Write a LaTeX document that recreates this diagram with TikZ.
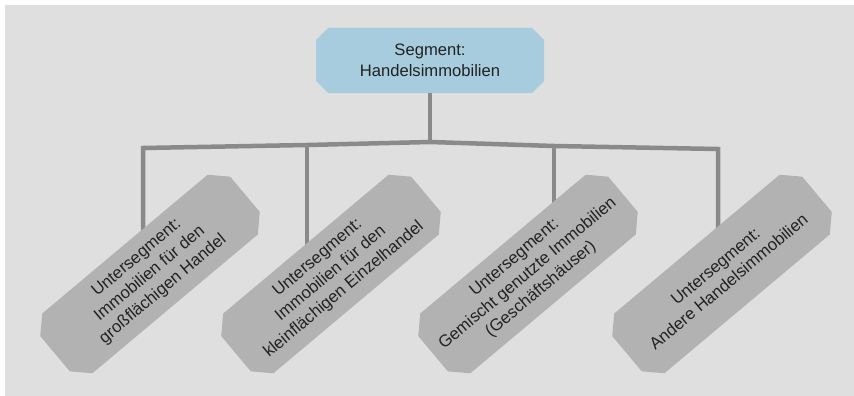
\documentclass[tikz,border=0pt]{standalone}
\usepackage{fontspec}
\setmainfont{Liberation Sans}
\usetikzlibrary{shapes.misc}
\definecolor{bggray}{HTML}{DFDFDF}
\definecolor{boxgray}{HTML}{B2B2B2}
\definecolor{linegray}{HTML}{8A8A8A}
\definecolor{topblue}{HTML}{A6CCDD}
\definecolor{txt}{HTML}{222222}
\tikzset{
  topbox/.style={chamfered rectangle, chamfered rectangle xsep=6pt, chamfered rectangle ysep=6pt,
    fill=topblue, draw=none, minimum width=228pt, minimum height=65pt, inner sep=0pt,
    align=center, text=txt, font=\fontsize{16.6}{21}\selectfont},
  subbox/.style={chamfered rectangle, chamfered rectangle xsep=8pt, chamfered rectangle ysep=8pt,
    fill=boxgray, draw=none, minimum width=248pt, minimum height=78pt, inner sep=0pt,
    align=center, text=txt, rotate=40, font=\fontsize{16.8}{20.5}\selectfont},
  conn/.style={draw=linegray, line width=4.5pt, line join=miter}
}
\begin{document}
\begin{tikzpicture}[x=1pt,y=-1pt]
\useasboundingbox (0,0) rectangle (854,396);
\fill[white] (0,0) rectangle (854,396);
\fill[bggray] (5,5) rectangle (854,396);
% top node
\node[topbox] (seg) at (430,60.5) {Segment:\\Handelsimmobilien};
% bar coordinates
\coordinate (j0) at (430,142);
\coordinate (j1) at (143,148);
\coordinate (j2) at (307,145);
\coordinate (j3) at (554,146);
\coordinate (j4) at (718,149);
% sub node centres
\coordinate (c1) at (150,274);
\coordinate (c2) at (331,274);
\coordinate (c3) at (528,274);
\coordinate (c4) at (722,274);
% connectors
\draw[conn] (seg.south) -- (j0);
\draw[conn] (j1 |- c1) -- (j1) -- (j2) -- (j0) -- (j3) -- (j4) -- (j4 |- c4);
\draw[conn] (j2) -- (j2 |- c2);
\draw[conn] (j3) -- (j3 |- c3);
% sub nodes
\node[subbox] (s1) at (c1) {Untersegment:\\Immobilien für den\\großflächigen Handel};
\node[subbox] (s2) at (c2) {Untersegment:\\Immobilien für den\\kleinflächigen Einzelhandel};
\node[subbox] (s3) at (c3) {Untersegment:\\Gemischt genutzte Immobilien\\(Geschäftshäuser)};
\node[subbox] (s4) at (c4) {Untersegment:\\Andere Handelsimmobilien};
\end{tikzpicture}
\end{document}
